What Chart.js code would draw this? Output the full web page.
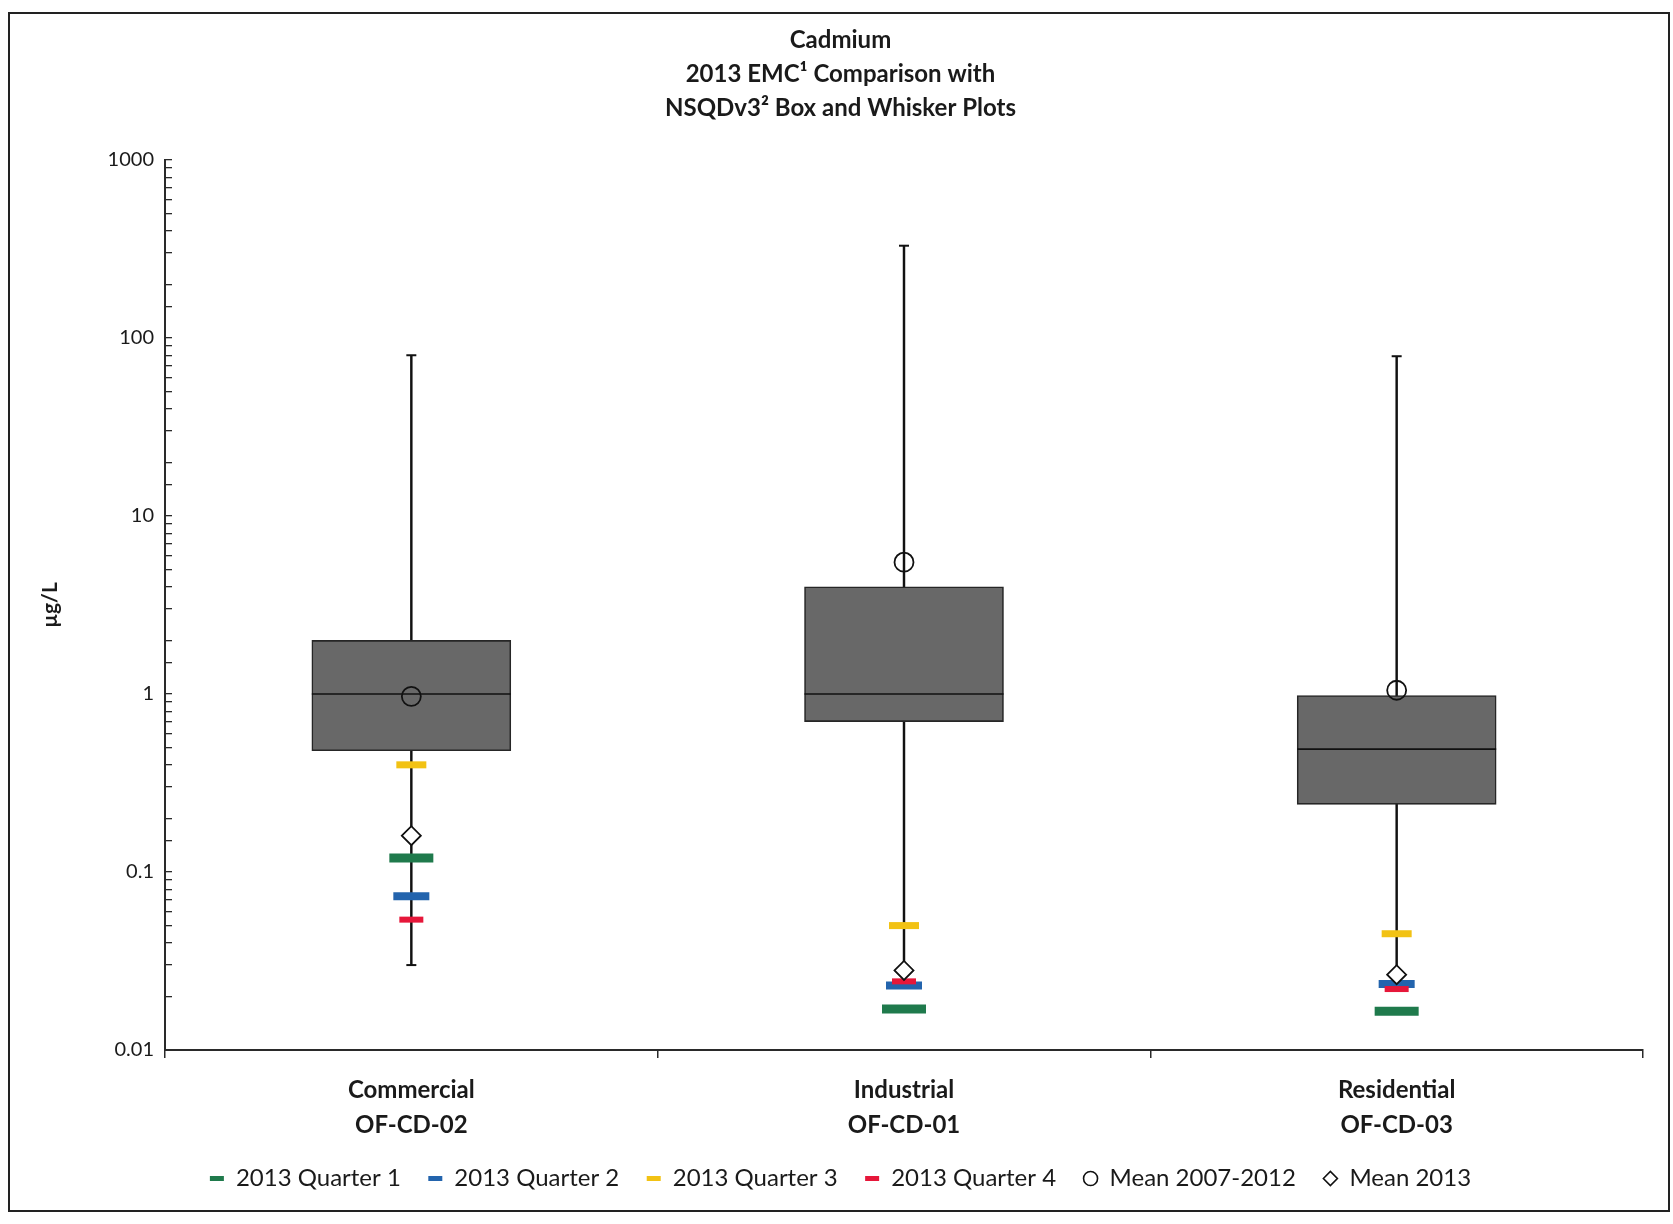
<!DOCTYPE html>
<html>
<head>
<meta charset="utf-8">
<script src="https://cdn.jsdelivr.net/npm/chart.js@4.4.1/dist/chart.umd.min.js"></script>
<style>
    body { margin: 0; background: #fff; }
    #wrap { position: relative; width: 1673px; height: 1224px; }
    #frame {
        position: absolute; left: 8px; top: 12px; width: 1658px; height: 1196px;
        border: 2px solid #222; pointer-events: none;
    }
</style>
</head>
<body>
<div id="wrap">
    <canvas id="chart" width="1673" height="1224"></canvas>
    <div id="frame"></div>
</div>
<script>
// categories (x axis labels, two lines each)
const categories = [['Commercial', 'OF-CD-02'], ['Industrial', 'OF-CD-01'], ['Residential', 'OF-CD-03']];

// NSQDv3 box and whisker values (µg/L)
const whiskerLow = [0.030, 0.028, 0.026];
const boxLow = [0.48, 0.70, 0.24];
const median = [1.0, 1.0, 0.49];
const boxHigh = [2.0, 4.0, 0.98];
const whiskerHigh = [80, 330, 79];
const lowCaps = [0.030, null, null];

// 2013 EMC values
const quarter1 = [0.12, 0.017, 0.0165];
const quarter2 = [0.073, 0.023, 0.0235];
const quarter3 = [0.40, 0.050, 0.045];
const quarter4 = [0.054, 0.0243, 0.022];
const mean2007to2012 = [0.97, 5.5, 1.05];
const mean2013 = [0.16, 0.028, 0.0265];

// y axis tick labels by decade
const yTickLabels = ['0.01', '0.1', '1', '10', '100', '1000'];

const titleLines = ['Cadmium', '2013 EMC\u00B9 Comparison with', 'NSQDv3\u00B2 Box and Whisker Plots'];
const legendOrder = ['2013 Quarter 1', '2013 Quarter 2', '2013 Quarter 3', '2013 Quarter 4', 'Mean 2007-2012', 'Mean 2013'];

const textColor = '#1a1a1a';
const axisColor = '#2a2a2a';
Chart.defaults.font.family = 'Lato, "Open Sans", sans-serif';
Chart.defaults.color = textColor;

function quarterSet(label, data, color, halfWidth, thick, order) {
    return {
        type: 'line', label: label, data: data, showLine: false, order: order,
        pointStyle: 'line', pointRadius: halfWidth, pointBorderWidth: thick,
        pointBorderColor: color, borderColor: color, backgroundColor: color
    };
}

const ctx = document.getElementById('chart').getContext('2d');
const chart = new Chart(ctx, {
    type: 'bar',
    data: {
        labels: categories,
        datasets: [
            {
                label: '_whisker', data: whiskerLow.map((v, i) => [v, whiskerHigh[i]]),
                grouped: false, barThickness: 1.8, backgroundColor: '#111', borderWidth: 0, order: 10
            },
            {
                type: 'line', label: '_capHigh', data: whiskerHigh, showLine: false, order: 9,
                pointStyle: 'line', pointRadius: 5, pointBorderWidth: 2, pointBorderColor: '#111'
            },
            {
                type: 'line', label: '_capLow', data: lowCaps, showLine: false, order: 9,
                pointStyle: 'line', pointRadius: 5, pointBorderWidth: 2, pointBorderColor: '#111'
            },
            {
                label: '_box', data: boxLow.map((v, i) => [v, boxHigh[i]]),
                grouped: false, barThickness: 199, backgroundColor: '#686868',
                borderColor: '#262626', borderWidth: 1.6, borderSkipped: false, order: 8
            },
            {
                type: 'line', label: '_median', data: median, showLine: false, order: 7,
                pointStyle: 'line', pointRadius: 99.5, pointBorderWidth: 1.6, pointBorderColor: '#111'
            },
            quarterSet('2013 Quarter 1', quarter1, '#1f7a4c', 22, 9, 5),
            quarterSet('2013 Quarter 2', quarter2, '#2364ad', 18, 8, 4),
            quarterSet('2013 Quarter 3', quarter3, '#f2c214', 15, 7, 3),
            quarterSet('2013 Quarter 4', quarter4, '#e6173a', 12, 6, 2),
            {
                type: 'line', label: 'Mean 2007-2012', data: mean2007to2012, showLine: false, order: 1,
                pointStyle: 'circle', pointRadius: 9.5, pointBorderWidth: 1.8,
                pointBorderColor: '#111', pointBackgroundColor: 'rgba(0,0,0,0)',
                borderColor: '#111', backgroundColor: 'rgba(0,0,0,0)'
            },
            {
                type: 'line', label: 'Mean 2013', data: mean2013, showLine: false, order: 0,
                pointStyle: 'rectRot', pointRadius: 9.5, pointBorderWidth: 1.8,
                pointBorderColor: '#111', pointBackgroundColor: '#fff',
                borderColor: '#111', backgroundColor: '#fff'
            }
        ]
    },
    options: {
        responsive: false,
        animation: false,
        events: [],
        layout: { autoPadding: false, padding: { left: 38, right: 30, top: 18, bottom: 23.5 } },
        plugins: {
            tooltip: { enabled: false },
            title: {
                display: true, text: titleLines, color: textColor,
                font: { size: 24, weight: 'bold', lineHeight: 1.4167 },
                padding: { top: 5.5, bottom: 34.5 }
            },
            legend: {
                position: 'bottom',
                labels: {
                    usePointStyle: true, pointStyleWidth: 14, boxHeight: 10,
                    padding: 27.5, color: textColor, font: { size: 24 },
                    filter: item => legendOrder.includes(item.text),
                    sort: (a, b) => legendOrder.indexOf(a.text) - legendOrder.indexOf(b.text),
                    generateLabels: function(chart) {
                        const items = Chart.defaults.plugins.legend.labels.generateLabels(chart);
                        items.forEach(item => { item.lineWidth = item.pointStyle === 'line' ? 5 : 1.6; });
                        return items;
                    }
                }
            }
        },
        scales: {
            x: {
                offset: true,
                border: { color: axisColor, width: 2 },
                grid: { offset: true, drawOnChartArea: false, drawTicks: true, tickLength: 8, color: axisColor, lineWidth: 1.5 },
                ticks: { color: textColor, padding: 14.5, font: { size: 24, weight: 'bold', lineHeight: 1.46 } },
                afterFit: scale => { scale.height = 89; }
            },
            y: {
                type: 'logarithmic', min: 0.01, max: 1000,
                border: { color: axisColor, width: 2 },
                grid: { drawOnChartArea: false, drawTicks: true, tickLength: -7, color: axisColor, lineWidth: 1.3 },
                ticks: {
                    autoSkip: false, color: textColor, padding: 18, font: { size: 20 },
                    callback: function(value) {
                        const e = Math.log10(value);
                        if (Math.abs(e - Math.round(e)) > 1e-6) return '';
                        return yTickLabels[Math.round(e) + 2];
                    }
                },
                title: {
                    display: true, text: '\u00B5g/L', color: textColor,
                    font: { size: 21, weight: 'bold' }, padding: { top: 0, bottom: 0 }
                },
                afterFit: scale => { scale.width = 127; }
            }
        }
    }
});
</script>
</body>
</html>
